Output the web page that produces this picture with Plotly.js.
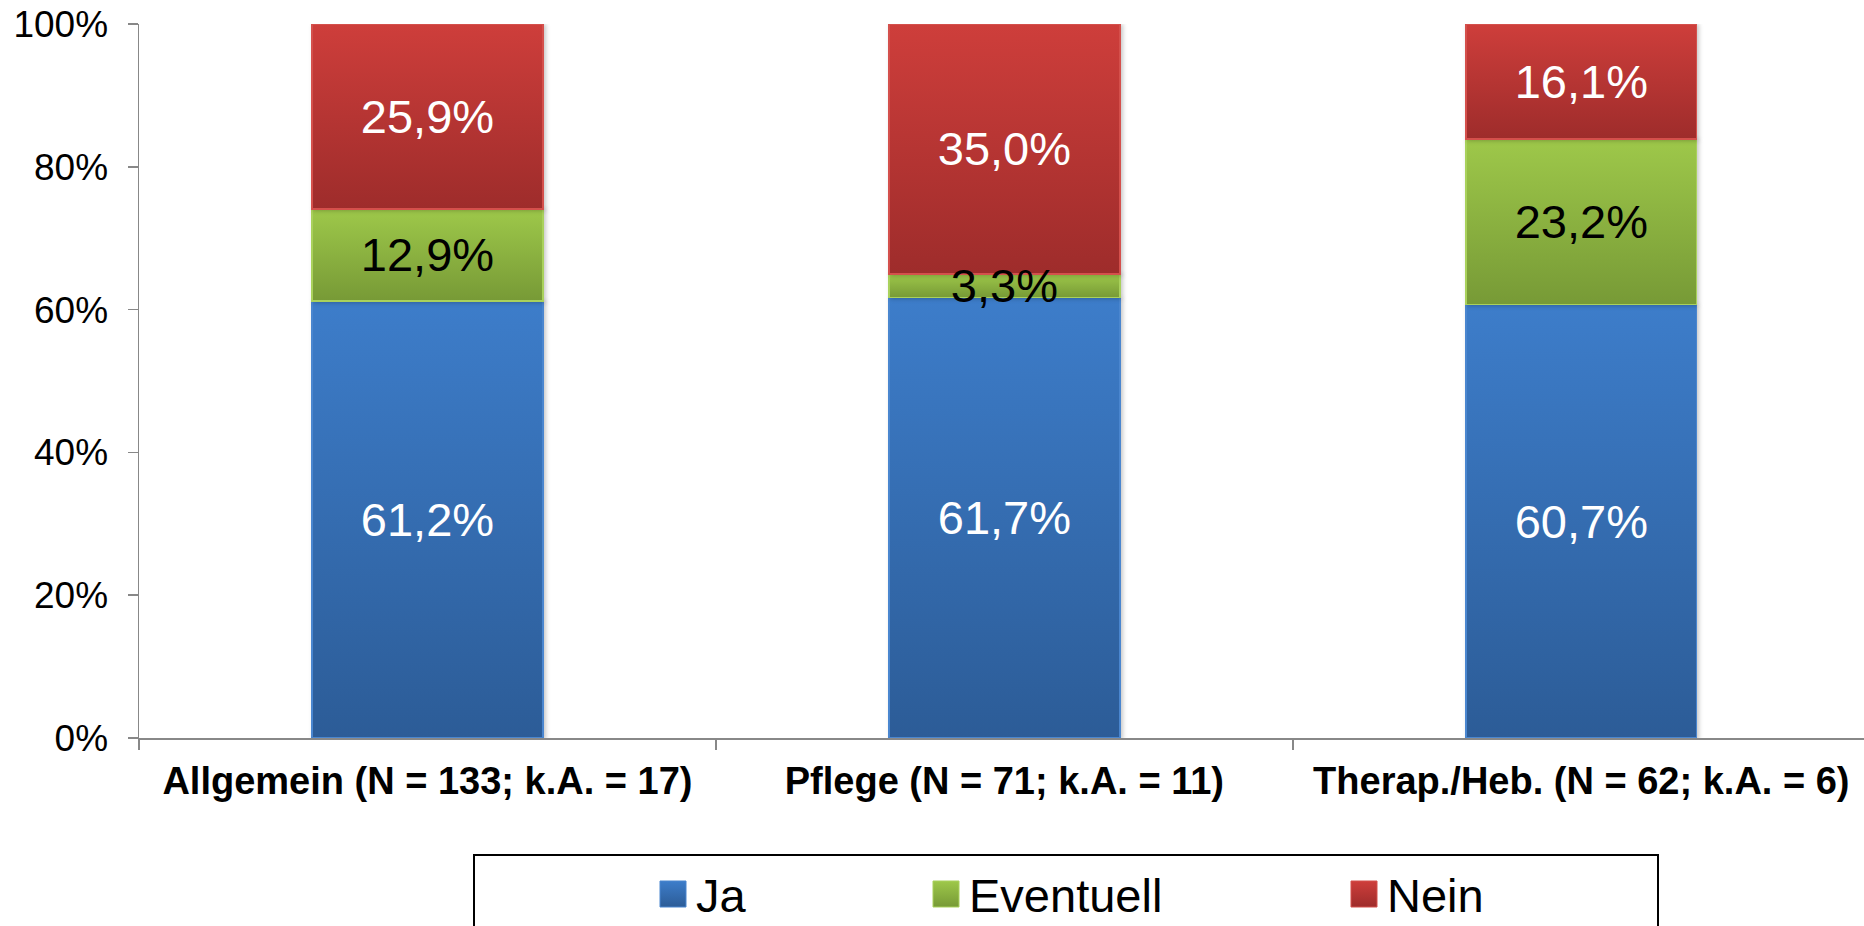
<!DOCTYPE html>
<html>
<head>
<meta charset="utf-8">
<script src="https://cdn.plot.ly/plotly-3.0.1.min.js"></script>
<style>
  html, body { margin: 0; padding: 0; background: #ffffff; }
  #chart { width: 1864px; height: 926px; }
</style>
</head>
<body>
<div id="chart"></div>
<script>
// Survey answers per professional group (shares in percent)
const categories = [
  'Allgemein (N = 133; k.A. = 17)',
  'Pflege (N = 71; k.A. = 11)',
  'Therap./Heb. (N = 62; k.A. = 6)'
];
const seriesNames = ['Ja', 'Eventuell', 'Nein'];
const jaValues = [61.2, 61.7, 60.7];
const eventuellValues = [12.9, 3.3, 23.2];
const neinValues = [25.9, 35.0, 16.1];
const yTickValues = [0, 20, 40, 60, 80, 100];

// Styling per series: gradient top/bottom, edge colour, label colour
const seriesStyle = [
  { top: '#3D7DCA', bottom: '#2C5C97', edge: '#4A86CF', text: '#ffffff' },
  { top: '#9EC84A', bottom: '#779A36', edge: '#A9D15C', text: '#000000' },
  { top: '#CE3E3B', bottom: '#9E2C2B', edge: '#D4504C', text: '#ffffff' }
];

const fmt = v => v.toFixed(1).replace('.', ',') + '%';

const W = 1864, H = 926;
const M = { l: 139, r: 0, t: 24, b: 188 };
const plotW = W - M.l - M.r, plotH = H - M.t - M.b;
const px2x = px => (px - M.l) / plotW;
const px2y = py => (H - M.b - py) / plotH;

const seriesValues = [jaValues, eventuellValues, neinValues];
const fontFamily = 'Arial, "Liberation Sans", sans-serif';

const traces = seriesValues.map((vals, i) => ({
  type: 'bar',
  name: seriesNames[i],
  x: categories,
  y: vals,
  width: 0.4,
  text: vals.map(fmt),
  textposition: 'inside',
  insidetextanchor: 'middle',
  constraintext: 'none',
  textangle: 0,
  textfont: { family: fontFamily, size: 47, color: seriesStyle[i].text },
  marker: {
    color: seriesStyle[i].top,
    line: { color: seriesStyle[i].edge, width: 1.5 }
  },
  hoverinfo: 'none',
  showlegend: false
}));

// Framed legend below the chart
const legendShapes = [{
  type: 'rect', xref: 'paper', yref: 'paper',
  x0: px2x(474), x1: px2x(1658), y0: px2y(960), y1: px2y(855),
  line: { color: '#000000', width: 2 }, fillcolor: 'rgba(0,0,0,0)'
}];
const legendAnnotations = [];
const legendSymbolX = [660, 933, 1351];
seriesNames.forEach((name, i) => {
  legendShapes.push({
    type: 'rect', xref: 'paper', yref: 'paper',
    x0: px2x(legendSymbolX[i]), x1: px2x(legendSymbolX[i] + 26),
    y0: px2y(907), y1: px2y(881),
    line: { color: seriesStyle[i].edge, width: 1 },
    fillcolor: seriesStyle[i].top
  });
  legendAnnotations.push({
    xref: 'paper', yref: 'paper',
    x: px2x(legendSymbolX[i] + 34), y: px2y(895),
    xanchor: 'left', yanchor: 'middle',
    text: name, showarrow: false,
    font: { family: fontFamily, size: 47, color: '#000000' }
  });
});

const layout = {
  width: W, height: H,
  margin: { l: M.l, r: M.r, t: M.t, b: M.b, pad: 0 },
  paper_bgcolor: '#ffffff',
  plot_bgcolor: '#ffffff',
  barmode: 'stack',
  showlegend: false,
  font: { family: fontFamily, color: '#000000' },
  xaxis: {
    type: 'category',
    range: [-0.5, 2.49],
    showline: true, linecolor: '#888888', linewidth: 1.5,
    ticks: 'outside', tickson: 'boundaries', ticklen: 10,
    tickcolor: '#888888', tickwidth: 1.5,
    tickfont: { family: fontFamily, size: 38, weight: 'bold', color: '#000000' },
    ticklabelstandoff: 9,
    showgrid: false, zeroline: false, fixedrange: true
  },
  yaxis: {
    range: [0, 100],
    tickvals: yTickValues,
    ticktext: yTickValues.map(v => v + '%'),
    showline: true, linecolor: '#888888', linewidth: 1.5,
    ticks: 'outside', ticklen: 10, tickcolor: '#888888', tickwidth: 1.5,
    tickfont: { family: fontFamily, size: 37, color: '#000000' },
    ticklabelstandoff: 12,
    showgrid: false, zeroline: false, fixedrange: true
  },
  shapes: legendShapes,
  annotations: legendAnnotations
};

function finishStyling(gd) {
  const svg = gd.querySelector('svg.main-svg');
  if (!svg) return;
  const ns = 'http://www.w3.org/2000/svg';
  let defs = svg.querySelector('defs');
  if (!defs) { defs = document.createElementNS(ns, 'defs'); svg.insertBefore(defs, svg.firstChild); }
  seriesStyle.forEach((s, i) => {
    const g = document.createElementNS(ns, 'linearGradient');
    g.setAttribute('id', 'seriesGrad' + i);
    g.setAttribute('x1', '0'); g.setAttribute('y1', '0');
    g.setAttribute('x2', '0'); g.setAttribute('y2', '1');
    [[0, s.top], [1, s.bottom]].forEach(([o, c]) => {
      const st = document.createElementNS(ns, 'stop');
      st.setAttribute('offset', o);
      st.setAttribute('stop-color', c);
      g.appendChild(st);
    });
    defs.appendChild(g);
  });

  const barlayer = gd.querySelector('.barlayer');
  const traceGroups = gd.querySelectorAll('.barlayer .trace');
  const textTop = document.createElementNS(ns, 'g');
  textTop.setAttribute('class', 'bar-labels');
  traceGroups.forEach((tg, i) => {
    tg.querySelectorAll('path').forEach(p => {
      p.style.fill = 'url(#seriesGrad' + i + ')';
    });
    tg.style.filter = 'drop-shadow(2px 1px 2px rgba(0,0,0,0.22))';
    // keep value labels above every stacked segment
    tg.querySelectorAll('text').forEach(t => textTop.appendChild(t));
  });
  if (barlayer) barlayer.appendChild(textTop);

  // legend symbols get the same gradients
  const rects = gd.querySelectorAll('.layer-above .shapelayer path');
  rects.forEach((p, k) => {
    if (k >= 1 && k <= 3) p.style.fill = 'url(#seriesGrad' + (k - 1) + ')';
  });
}

Plotly.newPlot('chart', traces, layout, { staticPlot: true, displayModeBar: false })
  .then(gd => finishStyling(gd));
</script>
</body>
</html>
